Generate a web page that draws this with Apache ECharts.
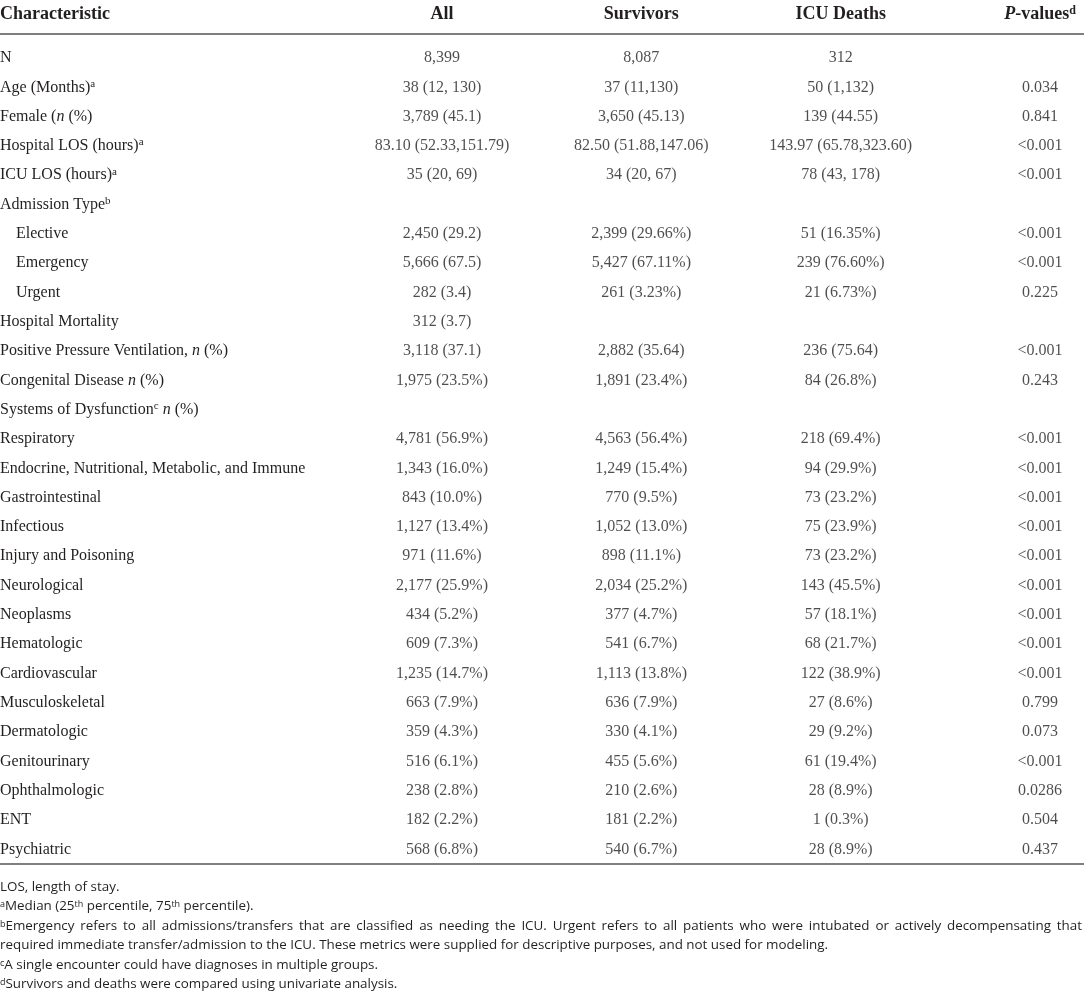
<!DOCTYPE html>
<html><head><meta charset="utf-8">
<script src="https://cdn.jsdelivr.net/npm/echarts@6/dist/echarts.min.js"></script>
<style>html,body{margin:0;padding:0;background:#fff}#c{width:1084px;height:995px}</style>
</head><body><div id="c"></div>
<script>
// ---- data ----
const columns = ['All', 'Survivors', 'ICU Deaths', 'P-values'];
const characteristics = [
  'N',
  'Age (Months){sup|a}',
  'Female ({it|n} (%)',
  'Hospital LOS (hours){sup|a}',
  'ICU LOS (hours){sup|a}',
  'Admission Type{sup|b}',
  '{ind|Elective}',
  '{ind|Emergency}',
  '{ind|Urgent}',
  'Hospital Mortality',
  'Positive Pressure Ventilation, {it|n} (%)',
  'Congenital Disease {it|n} (%)',
  'Systems of Dysfunction{sup|c} {it|n} (%)',
  'Respiratory',
  'Endocrine, Nutritional, Metabolic, and Immune',
  'Gastrointestinal',
  'Infectious',
  'Injury and Poisoning',
  'Neurological',
  'Neoplasms',
  'Hematologic',
  'Cardiovascular',
  'Musculoskeletal',
  'Dermatologic',
  'Genitourinary',
  'Ophthalmologic',
  'ENT',
  'Psychiatric'
];
const allValues = [
  '8,399', '38 (12, 130)', '3,789 (45.1)', '83.10 (52.33,151.79)', '35 (20, 69)', '',
  '2,450 (29.2)', '5,666 (67.5)', '282 (3.4)', '312 (3.7)', '3,118 (37.1)', '1,975 (23.5%)', '',
  '4,781 (56.9%)', '1,343 (16.0%)', '843 (10.0%)', '1,127 (13.4%)', '971 (11.6%)', '2,177 (25.9%)',
  '434 (5.2%)', '609 (7.3%)', '1,235 (14.7%)', '663 (7.9%)', '359 (4.3%)', '516 (6.1%)',
  '238 (2.8%)', '182 (2.2%)', '568 (6.8%)'
];
const survivorValues = [
  '8,087', '37 (11,130)', '3,650 (45.13)', '82.50 (51.88,147.06)', '34 (20, 67)', '',
  '2,399 (29.66%)', '5,427 (67.11%)', '261 (3.23%)', '', '2,882 (35.64)', '1,891 (23.4%)', '',
  '4,563 (56.4%)', '1,249 (15.4%)', '770 (9.5%)', '1,052 (13.0%)', '898 (11.1%)', '2,034 (25.2%)',
  '377 (4.7%)', '541 (6.7%)', '1,113 (13.8%)', '636 (7.9%)', '330 (4.1%)', '455 (5.6%)',
  '210 (2.6%)', '181 (2.2%)', '540 (6.7%)'
];
const deathValues = [
  '312', '50 (1,132)', '139 (44.55)', '143.97 (65.78,323.60)', '78 (43, 178)', '',
  '51 (16.35%)', '239 (76.60%)', '21 (6.73%)', '', '236 (75.64)', '84 (26.8%)', '',
  '218 (69.4%)', '94 (29.9%)', '73 (23.2%)', '75 (23.9%)', '73 (23.2%)', '143 (45.5%)',
  '57 (18.1%)', '68 (21.7%)', '122 (38.9%)', '27 (8.6%)', '29 (9.2%)', '61 (19.4%)',
  '28 (8.9%)', '1 (0.3%)', '28 (8.9%)'
];
const pValues = [
  '', '0.034', '0.841', '<0.001', '<0.001', '',
  '<0.001', '<0.001', '0.225', '', '<0.001', '0.243', '',
  '<0.001', '<0.001', '<0.001', '<0.001', '<0.001', '<0.001',
  '<0.001', '<0.001', '<0.001', '0.799', '0.073', '<0.001',
  '0.0286', '0.504', '0.437'
];
const headerTitle = 'Characteristic';
const footnotes = [
  'LOS, length of stay.',
  '{sup|a}Median (25{sup|th} percentile, 75{sup|th} percentile).',
  '{sup|b}Emergency refers to all admissions/transfers that are classified as needing the ICU. Urgent refers to all patients who were intubated or actively decompensating that',
  'required immediate transfer/admission to the ICU. These metrics were supplied for descriptive purposes, and not used for modeling.',
  '{sup|c}A single encounter could have diagnoses in multiple groups.',
  '{sup|d}Survivors and deaths were compared using univariate analysis.'
];
const justifiedFootnotes = [2]; // lines set justified to full width

// ---- styles ----
const SERIF = 'Liberation Serif';
const SANS = 'Open Sans';
const INK = '#231f20';
const RULE = '#555';
const W = 1084;
const gridLeft = 442, gridRight = 44, headerLine = 34, rowTop = 43.4, rowBottom = 864;
const FN_SIZE = 13.4, FN_SUP = 9;

const bodyRich = {
  sup: { fontFamily: SERIF, fontSize: 11, color: INK, verticalAlign: 'top', lineHeight: 18 },
  it: { fontFamily: SERIF, fontSize: 16, color: INK, fontStyle: 'italic', lineHeight: 18 },
  ind: { fontFamily: SERIF, fontSize: 16, color: INK, padding: [0, 0, 0, 16], lineHeight: 18 }
};
const headRich = {
  it: { fontFamily: SERIF, fontSize: 18, fontWeight: 'bold', fontStyle: 'italic', color: INK },
  b: { fontFamily: SERIF, fontSize: 18, fontWeight: 'bold', color: INK },
  sup: { fontFamily: SERIF, fontSize: 12, fontWeight: 'bold', color: INK, verticalAlign: 'top' }
};

// measure for justified footnote line
const ctx = document.createElement('canvas').getContext('2d');
function plainWidth(markup) {
  let w = 0;
  markup.split(/(\{sup\|[^}]*\})/).forEach(part => {
    const m = part.match(/^\{sup\|([^}]*)\}$/);
    if (m) { ctx.font = FN_SUP + 'px "' + SANS + '"'; w += ctx.measureText(m[1]).width; }
    else { ctx.font = FN_SIZE + 'px "' + SANS + '"'; w += ctx.measureText(part).width; }
  });
  return w;
}
function justify(markup) {
  const spaces = (markup.match(/ /g) || []).length;
  ctx.font = FN_SIZE + 'px "' + SANS + '"';
  const spW = ctx.measureText(' ').width;
  const extra = (W - 2 - plainWidth(markup)) / spaces;
  return { text: markup.replace(/ /g, '{sp| }'), sp: Math.max(spW, spW + extra) };
}

const colData = [allValues, survivorValues, deathValues, pValues];
const series = colData.map((vals, c) => ({
  type: 'scatter',
  xAxisIndex: 0, yAxisIndex: 0,
  symbolSize: 0,
  silent: true,
  itemStyle: { color: 'transparent' },
  label: {
    show: true, position: 'inside',
    fontFamily: SERIF, fontSize: 16, color: INK,
    formatter: p => p.data[2]
  },
  data: characteristics.map((r, i) => [columns[c], r, vals[i]]).filter(d => d[2] !== '')
}));

const footGraphics = footnotes.map((t, i) => {
  let text = t, rich = { sup: { fontFamily: SANS, fontSize: FN_SUP, fill: INK, verticalAlign: 'top' } };
  if (justifiedFootnotes.indexOf(i) >= 0) {
    const j = justify(t);
    text = j.text;
    rich.sp = { fontFamily: SANS, fontSize: FN_SIZE, fill: INK, width: j.sp };
  }
  return {
    type: 'text', x: 0, y: 887 + i * 19.5,
    style: { text: text, fontFamily: SANS, fontSize: FN_SIZE, fill: INK, verticalAlign: 'middle', align: 'left', rich: rich }
  };
});

const chart = echarts.init(document.getElementById('c'), null, { renderer: 'canvas' });
chart.setOption({
  animation: false,
  backgroundColor: '#fff',
  grid: [
    { left: gridLeft, right: gridRight, top: rowTop, height: rowBottom - rowTop, outerBoundsMode: 'none' },
    { left: 0, right: 0, top: headerLine, height: rowBottom - headerLine, outerBoundsMode: 'none' }
  ],
  xAxis: [
    {
      gridIndex: 0, type: 'category', data: columns, position: 'top', boundaryGap: false,
      axisLine: { show: false }, axisTick: { show: false }, splitLine: { show: false },
      axisLabel: {
        interval: 0, margin: 20, fontFamily: SERIF, fontSize: 18, fontWeight: 'bold', color: INK,
        formatter: v => v === 'P-values' ? '{it|P}{b|-values}{sup|d}' : v,
        rich: headRich
      }
    },
    {
      gridIndex: 1, type: 'value', min: 0, max: 1, position: 'top',
      axisLine: { show: true, onZero: false, lineStyle: { color: RULE, width: 1.6 } },
      axisTick: { show: false }, axisLabel: { show: false }, splitLine: { show: false }
    },
    {
      gridIndex: 1, type: 'value', min: 0, max: 1, position: 'bottom',
      axisLine: { show: true, onZero: false, lineStyle: { color: RULE, width: 1.6 } },
      axisTick: { show: false }, axisLabel: { show: false }, splitLine: { show: false }
    }
  ],
  yAxis: [
    {
      gridIndex: 0, type: 'category', data: characteristics, inverse: true,
      axisLine: { show: false }, axisTick: { show: false }, splitLine: { show: false },
      axisLabel: {
        interval: 0, margin: gridLeft, align: 'left',
        fontFamily: SERIF, fontSize: 16, color: INK, lineHeight: 18,
        rich: bodyRich
      }
    },
    { gridIndex: 1, type: 'value', min: 0, max: 1, show: false }
  ],
  graphic: [
    {
      type: 'text', x: 0, y: 14,
      style: { text: headerTitle, fontFamily: SERIF, fontSize: 18, fontWeight: 'bold', fill: INK, verticalAlign: 'middle', align: 'left' }
    }
  ].concat(footGraphics),
  series: series
});
</script></body></html>
